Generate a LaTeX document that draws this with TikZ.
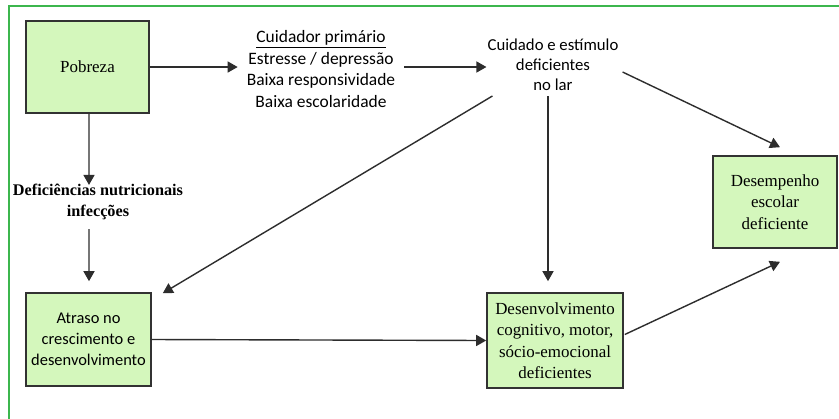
\documentclass[tikz,border=0pt]{standalone}
\usepackage{fontspec}
\setmainfont{Liberation Serif}
\newfontfamily\carlito{Carlito}
\usetikzlibrary{arrows.meta,calc}
\definecolor{boxfill}{RGB}{212,247,188}
\definecolor{boxline}{RGB}{50,50,50}
\definecolor{framegreen}{RGB}{60,182,78}
\definecolor{arrowcol}{RGB}{45,45,45}
\begin{document}
\begin{tikzpicture}[x=1bp,y=-1bp,
  box/.style={draw=boxline, line width=1.6bp, fill=boxfill, inner sep=0pt, align=center},
  serif/.style={font=\fontsize{17}{21.5}\selectfont},
  sans/.style={font=\carlito\fontsize{16.5}{21}\selectfont},
  label/.style={align=center, inner ysep=2bp},
  link/.style={draw=arrowcol, line width=1.4bp, -{Triangle[length=10bp,width=11bp]}}]
\useasboundingbox (0,0) rectangle (839,418);
\fill[white] (0,0) rectangle (839,418);
% outer frame (only its top and left edges fall inside the page)
\draw[framegreen, line width=2bp] (9,420) |- (841,6);

% boxes
\node[box, serif, minimum width=123bp, minimum height=92bp] (pob) at (87.5,67) {Pobreza};
\node[box, sans, minimum width=125bp, minimum height=93bp] (atr) at (88.5,339.5)
  {Atraso no\\crescimento e\\desenvolvimento};
\node[box, serif, minimum width=136bp, minimum height=95bp] (dev) at (555,340.5)
  {Desenvolvimento\\cognitivo, motor,\\sócio-emocional\\deficientes};
\node[box, serif, minimum width=124bp, minimum height=92bp] (des) at (775,202)
  {Desempenho\\escolar\\deficiente};

% free-standing labels
\node[label, inner xsep=9bp, font=\carlito\fontsize{17.5}{21.5}\selectfont] (cui) at (321,69)
  {\underline{Cuidador primário}\\Estresse / depressão\\Baixa responsividade\\Baixa escolaridade};
\node[label, inner xsep=2bp, font=\carlito\fontsize{16.8}{20}\selectfont] (lar) at (553,65)
  {Cuidado e estímulo\\deficientes\\no lar};
\node[label, font=\bfseries\fontsize{16.3}{21}\selectfont] (def) at (98,202)
  {Deficiências nutricionais\\infecções};

% connectors
\draw[link] (pob.east) -- (cui.west |- pob.east);
\draw[link] (cui.east |- pob.east) -- ($(lar.west |- pob.east)+(1,0)$);
\draw[link] ($(lar.east)+(2,7)$) -- ($(des.north)+(5,-8)$);
\draw[link] ($(lar.south)+(-5,3)$) -- ($(dev.north)+(-7,-11)$);
\draw[link] ($(lar.south west)+(7,3)$) -- ($(atr.north east)+(11,1)$);
\draw[link] ($(pob.south)+(1.5,0)$) -- ($(def.north)+(-9,3)$);
\draw[link] ($(def.south)+(-9,7)$) -- ($(atr.north)+(0.5,-11)$);
\draw[link] (atr.east) -- (dev.west);
\draw[link] ($(dev.east)+(1,-6)$) -- ($(des.south)+(5,13)$);
\end{tikzpicture}
\end{document}
